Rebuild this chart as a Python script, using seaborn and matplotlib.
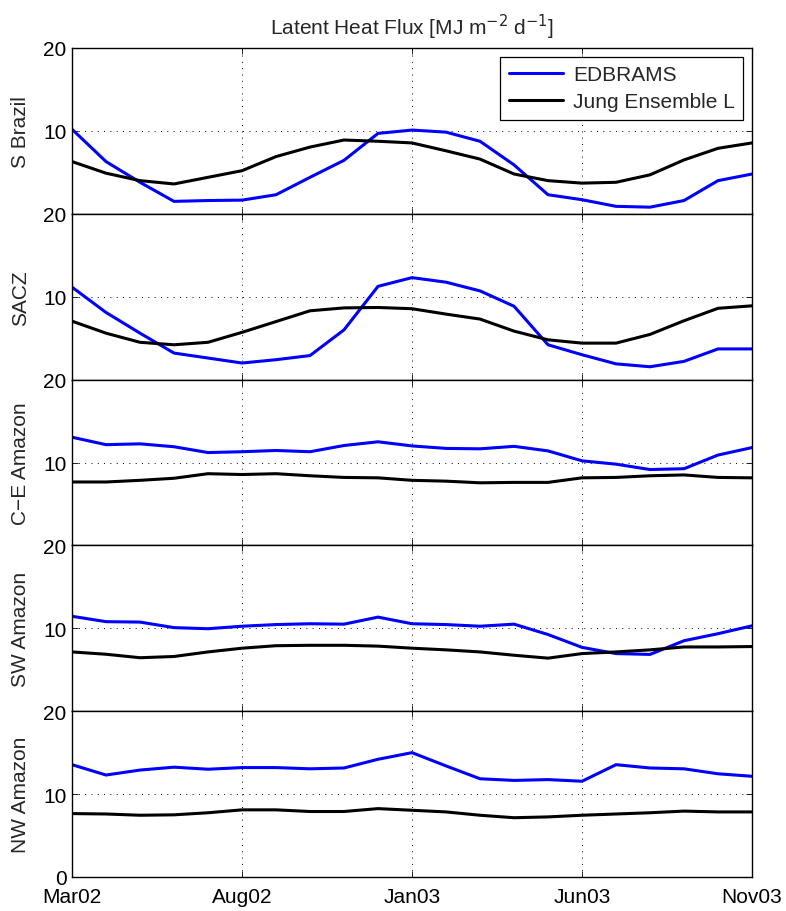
import numpy as np
import pandas as pd
import matplotlib
matplotlib.use("Agg")
import matplotlib.pyplot as plt
import seaborn as sns

months = ["Mar02", "Apr02", "May02", "Jun02", "Jul02", "Aug02", "Sep02", "Oct02",
          "Nov02", "Dec02", "Jan03", "Feb03", "Mar03", "Apr03", "May03", "Jun03",
          "Jul03", "Aug03", "Sep03", "Oct03", "Nov03"]
tick_labels = ["Mar02", "Aug02", "Jan03", "Jun03", "Nov03"]
regions = ["S Brazil", "SACZ", "C\u2212E Amazon", "SW Amazon", "NW Amazon"]
series_names = ["EDBRAMS", "Jung Ensemble L"]

edbrams_s_brazil = [10.2, 6.3, 3.8, 1.5, 1.6, 1.65, 2.3, 4.4, 6.45, 9.7, 10.1,
                    9.85, 8.75, 5.9, 2.3, 1.7, 0.9, 0.8, 1.6, 4.0, 4.8]
jung_s_brazil = [6.3, 4.9, 4.0, 3.6, 4.4, 5.2, 6.9, 8.05, 8.9, 8.75, 8.55,
                 7.6, 6.6, 4.8, 4.0, 3.7, 3.8, 4.7, 6.5, 7.9, 8.55]

edbrams_sacz = [11.15, 8.1, 5.6, 3.2, 2.6, 2.0, 2.4, 2.9, 6.0, 11.25, 12.3,
                11.75, 10.7, 8.85, 4.2, 3.0, 1.9, 1.55, 2.2, 3.7, 3.7]
jung_sacz = [7.05, 5.6, 4.5, 4.2, 4.5, 5.7, 7.0, 8.3, 8.65, 8.7, 8.55,
             7.9, 7.3, 5.85, 4.8, 4.4, 4.4, 5.45, 7.1, 8.6, 8.9]

edbrams_ce_amazon = [13.05, 12.15, 12.25, 11.9, 11.2, 11.3, 11.45, 11.3, 12.05, 12.5, 12.0,
                     11.7, 11.65, 11.95, 11.4, 10.2, 9.8, 9.15, 9.25, 10.9, 11.8]
jung_ce_amazon = [7.65, 7.65, 7.85, 8.1, 8.65, 8.55, 8.65, 8.4, 8.2, 8.15, 7.85,
                  7.75, 7.55, 7.6, 7.6, 8.15, 8.2, 8.4, 8.5, 8.2, 8.15]

edbrams_sw_amazon = [11.45, 10.8, 10.75, 10.08, 9.95, 10.25, 10.45, 10.55, 10.5, 11.35, 10.55,
                     10.45, 10.25, 10.5, 9.25, 7.7, 6.95, 6.85, 8.5, 9.35, 10.3]
jung_sw_amazon = [7.15, 6.87, 6.45, 6.6, 7.15, 7.6, 7.9, 7.95, 7.95, 7.85, 7.6,
                  7.4, 7.15, 6.75, 6.4, 6.95, 7.15, 7.4, 7.75, 7.75, 7.8]

edbrams_nw_amazon = [13.55, 12.3, 12.9, 13.25, 13.0, 13.2, 13.2, 13.05, 13.15, 14.2, 15.0,
                     13.4, 11.85, 11.65, 11.75, 11.55, 13.55, 13.15, 13.05, 12.45, 12.15]
jung_nw_amazon = [7.65, 7.6, 7.45, 7.5, 7.75, 8.1, 8.1, 7.9, 7.9, 8.25, 8.05,
                  7.85, 7.45, 7.15, 7.25, 7.45, 7.6, 7.75, 7.95, 7.85, 7.85]

edbrams_all = [edbrams_s_brazil, edbrams_sacz, edbrams_ce_amazon, edbrams_sw_amazon, edbrams_nw_amazon]
jung_all = [jung_s_brazil, jung_sacz, jung_ce_amazon, jung_sw_amazon, jung_nw_amazon]

sns.set_theme(style="white")
plt.rcParams["font.family"] = ["Liberation Sans", "DejaVu Sans"]
plt.rcParams["font.size"] = 15
plt.rcParams["axes.unicode_minus"] = True

fig = plt.figure(figsize=(7.86, 9.12), dpi=100)
left, right = 72 / 786, 752 / 786
top, bottom = 1 - 49 / 912, 1 - 878 / 912
n = len(regions)
h = (top - bottom) / n

palette = {"EDBRAMS": "#0000ff", "Jung Ensemble L": "#000000"}
tick_pos = [months.index(t) for t in tick_labels]

axes = []
for i, region in enumerate(regions):
    ax = fig.add_axes([left, top - (i + 1) * h, right - left, h])
    axes.append(ax)
    df = pd.DataFrame({
        "idx": list(range(len(months))) * 2,
        "value": list(edbrams_all[i]) + list(jung_all[i]),
        "series": [series_names[0]] * len(months) + [series_names[1]] * len(months),
    })
    sns.lineplot(data=df, x="idx", y="value", hue="series", palette=palette,
                 linewidth=2.2, ax=ax, legend=(i == 0), sort=False)
    ax.set_xlim(0, len(months) - 1)
    ax.set_ylim(0, 20)
    ax.set_xticks(tick_pos)
    if i == n - 1:
        ax.set_yticks([0, 10, 20])
        ax.set_xticklabels(tick_labels, fontsize=15)
    else:
        ax.set_yticks([10, 20])
        ax.set_xticklabels([])
    ax.tick_params(axis="y", labelsize=15)
    ax.tick_params(direction="in", length=4.5, width=0.6, top=True, right=True,
                   bottom=True, left=True, colors="black", pad=4)
    ax.tick_params(axis="x", pad=7)
    ax.grid(True, axis="both", color="black", linestyle=(0, (1, 5.5)), linewidth=0.7)
    for sp in ax.spines.values():
        sp.set_visible(True)
        sp.set_color("black")
        sp.set_linewidth(1.0)
    ax.set_xlabel("")
    ax.set_ylabel(region, fontsize=15)
    ax.yaxis.set_label_coords(-0.062, 0.5)
    if i == 0:
        leg = ax.legend(loc="upper right", frameon=True, fancybox=False, framealpha=1,
                        edgecolor="black", fontsize=15, handlelength=2.6,
                        borderaxespad=0.42, labelspacing=0.4, borderpad=0.4,
                        handletextpad=0.5)
        leg.get_frame().set_linewidth(0.9)
        for line in leg.get_lines():
            line.set_linewidth(2.2)
        ax.set_title("Latent Heat Flux [MJ m$^{-2}$ d$^{-1}$]", fontsize=15, pad=10)

fig.savefig("out.png", dpi=100)
